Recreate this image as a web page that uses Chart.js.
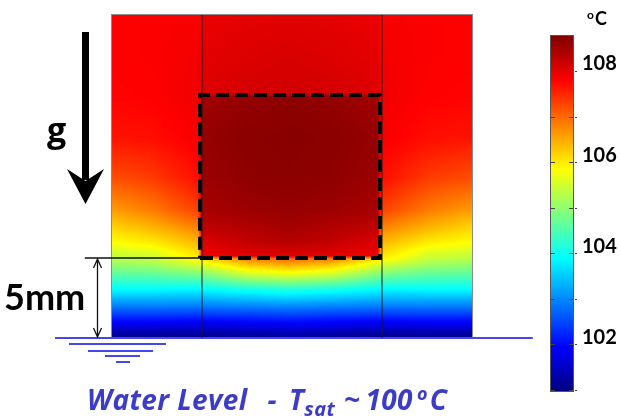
<!DOCTYPE html>
<html>
<head>
<meta charset="utf-8">
<script src="https://cdn.jsdelivr.net/npm/chart.js@4.4.1/dist/chart.umd.min.js"></script>
<style>
  html, body { margin: 0; padding: 0; background: #fff; }
  #wrap { position: relative; width: 620px; height: 419px; overflow: hidden; font-family: Lato, "Open Sans", sans-serif; }
  canvas { position: absolute; top: 0; }
  #field { left: 0; }
  #bar { left: 540px; }
  .lbl { position: absolute; font-weight: bold; color: #000; white-space: nowrap; line-height: 1; }
  #g { left: 47px; top: 112px; font-family: "Open Sans", sans-serif; font-size: 34px; }
  #dim { left: 4px; top: 278px; font-size: 36px; }
  #unit { left: 587px; top: 9px; font-size: 18px; }
  #unit .o { font-size: 12px; position: relative; top: -6px; margin-right: 1px; }
  #cap { position: absolute; left: 87px; top: 385px; font-family: "Open Sans", sans-serif; font-size: 28px; font-weight: bold; font-style: italic; color: #3c3cc8; white-space: nowrap; line-height: 1; letter-spacing: 0.4px; }
  #cap .dash { margin: 0 12px 0 20px; }
  #cap .sub { font-size: 20px; position: relative; top: 6px; }
  #cap .tl { margin: 0 5px 0 9px; }
  #cap .sup { font-size: 18px; position: relative; top: -10px; margin: 0 2px 0 4px; }
</style>
</head>
<body>
<div id="wrap">
  <canvas id="field" width="620" height="419"></canvas>
  <canvas id="bar" width="80" height="419"></canvas>
  <div class="lbl" id="g">g</div>
  <div class="lbl" id="dim">5mm</div>
  <div class="lbl" id="unit"><span class="o">o</span>C</div>
  <div id="cap">Water Level<span class="dash">-</span>T<span class="sub">sat</span><span class="tl">~</span>100<span class="sup">o</span>C</div>
</div>
<script>
// temperature samples (deg C), x across the block, y up from the water surface (mm)
const gridX = [0, 2.5, 5.4, 5.65, 8.5, 11.1, 13.7, 16.6, 16.85, 19.8, 22.5];
const gridY = [0, 1, 2, 3, 4, 4.95, 5.15, 6, 7, 8, 10, 12.5, 15.05, 15.3, 17.5, 20.2];
const tempGrid = [
  [101.0, 101.0, 101.0, 101.0, 101.05, 101.1, 101.05, 101.0, 101.0, 101.0, 101.0],
  [101.95, 101.95, 101.9, 101.9, 101.95, 102.0, 101.95, 101.9, 101.9, 101.95, 101.95],
  [102.9, 102.9, 102.9, 102.9, 102.95, 103.0, 102.95, 102.9, 102.9, 102.9, 102.9],
  [103.85, 103.85, 103.8, 103.85, 104.0, 104.1, 104.0, 103.85, 103.8, 103.85, 103.85],
  [104.6, 104.65, 104.85, 104.9, 105.5, 105.7, 105.5, 104.9, 104.85, 104.65, 104.6],
  [105.3, 105.4, 105.95, 106.05, 106.8, 107.0, 106.8, 106.05, 105.95, 105.4, 105.3],
  [105.4, 105.5, 106.05, 107.9, 108.0, 108.05, 108.0, 107.9, 106.05, 105.5, 105.4],
  [105.85, 106.0, 106.4, 108.05, 108.25, 108.35, 108.25, 108.05, 106.4, 106.0, 105.85],
  [106.2, 106.45, 106.85, 108.3, 108.4, 108.5, 108.4, 108.3, 106.85, 106.45, 106.2],
  [106.6, 106.85, 107.3, 108.45, 108.55, 108.6, 108.55, 108.45, 107.3, 106.85, 106.6],
  [107.2, 107.35, 107.7, 108.55, 108.65, 108.68, 108.65, 108.55, 107.7, 107.35, 107.2],
  [107.65, 107.7, 107.85, 108.6, 108.68, 108.7, 108.68, 108.6, 107.85, 107.7, 107.65],
  [107.78, 107.8, 107.9, 108.5, 108.62, 108.66, 108.62, 108.5, 107.9, 107.8, 107.78],
  [107.78, 107.8, 107.9, 108.05, 108.12, 108.15, 108.12, 108.05, 107.9, 107.8, 107.78],
  [107.8, 107.82, 107.88, 108.0, 108.06, 108.1, 108.06, 108.0, 107.88, 107.82, 107.8],
  [107.8, 107.82, 107.85, 107.95, 108.0, 108.02, 108.0, 107.95, 107.85, 107.82, 107.8]
];

// colour scale
const tMin = 100.97;
const tMax = 108.77;
const barTicks = [102, 104, 106, 108];
const barMarks = [101, 102, 103, 104, 105, 106, 107, 108];

// block outline (mm)
const blockW = 22.5;
const blockH = 20.2;
const heater = { x0: 5.5, x1: 16.75, y0: 5, y1: 15.2 };
const dividers = [5.625, 16.875];

function jet(t) {
  t = Math.min(1, Math.max(0, t));
  const c = v => Math.round(255 * Math.min(1, Math.max(0, v)));
  return [c(1.5 - Math.abs(4 * t - 3)), c(1.5 - Math.abs(4 * t - 2)), c(1.5 - Math.abs(4 * t - 1))];
}

function seg(arr, v) {
  let i = 0;
  while (i < arr.length - 2 && v > arr[i + 1]) i++;
  return i;
}

function tempAt(x, y) {
  const i = seg(gridX, x), j = seg(gridY, y);
  const fx = Math.min(1, Math.max(0, (x - gridX[i]) / (gridX[i + 1] - gridX[i])));
  const fy = Math.min(1, Math.max(0, (y - gridY[j]) / (gridY[j + 1] - gridY[j])));
  const lo = tempGrid[j][i] * (1 - fx) + tempGrid[j][i + 1] * fx;
  const hi = tempGrid[j + 1][i] * (1 - fx) + tempGrid[j + 1][i + 1] * fx;
  return lo * (1 - fy) + hi * fy;
}

const fieldPlugin = {
  id: 'tempField',
  beforeDatasetsDraw(chart) {
    const { ctx, chartArea: a, scales } = chart;
    const left = Math.round(a.left), top = Math.round(a.top);
    const w = Math.round(a.right) - left, h = Math.round(a.bottom) - top;
    const img = ctx.createImageData(w, h);
    for (let py = 0; py < h; py++) {
      const y = scales.y.getValueForPixel(top + py + 0.5);
      for (let px = 0; px < w; px++) {
        const x = scales.x.getValueForPixel(left + px + 0.5);
        const col = jet((tempAt(x, y) - tMin) / (tMax - tMin));
        const k = 4 * (py * w + px);
        img.data[k] = col[0];
        img.data[k + 1] = col[1];
        img.data[k + 2] = col[2];
        img.data[k + 3] = 255;
      }
    }
    ctx.putImageData(img, left, top);
    ctx.save();
    ctx.strokeStyle = '#8c8c8c';
    ctx.lineWidth = 1;
    ctx.strokeRect(left - 0.5, top - 0.5, w + 1, h);
    ctx.restore();
  },
  afterDraw(chart) {
    const { ctx, scales } = chart;
    const water = scales.y.getPixelForValue(0);
    const left = scales.x.getPixelForValue(0);
    ctx.save();

    // ground symbol under the water line
    ctx.strokeStyle = '#4646f0';
    ctx.lineWidth = 2;
    [[6, -43, 54], [13, -24, 41], [18, -7, 28], [24, 4, 18]].forEach(([dy, a, b]) => {
      ctx.beginPath();
      ctx.moveTo(left + a, water + dy);
      ctx.lineTo(left + b, water + dy);
      ctx.stroke();
    });

    // 5 mm dimension arrow
    const ax = Math.round(scales.x.getPixelForValue(-0.94)) + 0.5;
    const y1 = scales.y.getPixelForValue(heater.y0) + 1;
    const y2 = water - 1;
    ctx.strokeStyle = '#111';
    ctx.lineWidth = 1.3;
    ctx.beginPath();
    ctx.moveTo(ax, y1); ctx.lineTo(ax, y2);
    ctx.moveTo(ax - 4, y1 + 9); ctx.lineTo(ax, y1); ctx.lineTo(ax + 4, y1 + 9);
    ctx.moveTo(ax - 4, y2 - 9); ctx.lineTo(ax, y2); ctx.lineTo(ax + 4, y2 - 9);
    ctx.stroke();

    // gravity arrow
    ctx.fillStyle = '#000';
    ctx.fillRect(82, 32, 7, 148);
    ctx.beginPath();
    ctx.moveTo(67, 169);
    ctx.lineTo(85.5, 181);
    ctx.lineTo(104, 169);
    ctx.lineTo(85.5, 204);
    ctx.closePath();
    ctx.fill();
    ctx.restore();
  }
};

const line = (pts, color, width, extra) => Object.assign({
  data: pts, showLine: true, borderColor: color, borderWidth: width,
  pointRadius: 0, tension: 0, clip: false
}, extra || {});

new Chart(document.getElementById('field'), {
  type: 'scatter',
  data: {
    datasets: [
      line([{ x: dividers[0], y: 0 }, { x: dividers[0], y: blockH }], '#1a1a1a', 1),
      line([{ x: dividers[1], y: 0 }, { x: dividers[1], y: blockH }], '#1a1a1a', 1),
      line([{ x: -3.56, y: 0 }, { x: 26.3, y: 0 }], '#4646f0', 2),
      line([{ x: -1.7, y: heater.y0 }, { x: heater.x0, y: heater.y0 }], '#111', 1.5),
      line([
        { x: heater.x0, y: heater.y0 }, { x: heater.x1, y: heater.y0 },
        { x: heater.x1, y: heater.y1 }, { x: heater.x0, y: heater.y1 },
        { x: heater.x0, y: heater.y0 }
      ], '#000', 4, { borderDash: [13, 6], borderJoinStyle: 'miter' })
    ]
  },
  options: {
    responsive: false,
    animation: false,
    devicePixelRatio: 1,
    events: [],
    layout: { padding: { left: 112, right: 148, top: 15, bottom: 81 } },
    plugins: { legend: { display: false }, tooltip: { enabled: false } },
    scales: {
      x: { type: 'linear', display: false, min: 0, max: blockW },
      y: { type: 'linear', display: false, min: 0, max: blockH }
    }
  },
  plugins: [fieldPlugin]
});

const barPlugin = {
  id: 'colorbar',
  beforeDraw(chart) {
    const { ctx, chartArea: a, scales: { y } } = chart;
    const l = Math.round(a.left), r = Math.round(a.right);
    for (let py = Math.round(a.top); py < Math.round(a.bottom); py++) {
      const [cr, cg, cb] = jet((y.getValueForPixel(py + 0.5) - tMin) / (tMax - tMin));
      ctx.fillStyle = `rgb(${cr},${cg},${cb})`;
      ctx.fillRect(l, py, r - l, 1);
    }
    ctx.save();
    ctx.strokeStyle = '#555';
    ctx.lineWidth = 1;
    ctx.strokeRect(l - 0.5, Math.round(a.top) - 0.5, r - l + 1, Math.round(a.bottom) - Math.round(a.top) + 1);
    ctx.strokeStyle = '#444';
    ctx.beginPath();
    barMarks.forEach(v => {
      const p = Math.round(y.getPixelForValue(v)) + 0.5;
      ctx.moveTo(l, p); ctx.lineTo(l + 4, p);
      ctx.moveTo(r - 4, p); ctx.lineTo(r, p);
      ctx.moveTo(r + 2, p); ctx.lineTo(r + 4, p);
    });
    ctx.stroke();
    ctx.restore();
  }
};

new Chart(document.getElementById('bar'), {
  type: 'scatter',
  data: { datasets: [] },
  options: {
    responsive: false,
    animation: false,
    devicePixelRatio: 1,
    events: [],
    layout: { padding: { left: 11, right: 0, top: 36, bottom: 28 } },
    plugins: { legend: { display: false }, tooltip: { enabled: false } },
    scales: {
      x: { display: false, min: 0, max: 1 },
      y: {
        position: 'right',
        min: tMin,
        max: tMax,
        afterBuildTicks: s => { s.ticks = barTicks.map(v => ({ value: v })); },
        afterFit: s => { s.width = 47; },
        grid: { display: false, drawTicks: false },
        border: { display: false },
        ticks: { padding: 9, labelOffset: -7, color: '#000', font: { family: 'Lato', size: 20, weight: 'bold' } }
      }
    }
  },
  plugins: [barPlugin]
});
</script>
</body>
</html>
